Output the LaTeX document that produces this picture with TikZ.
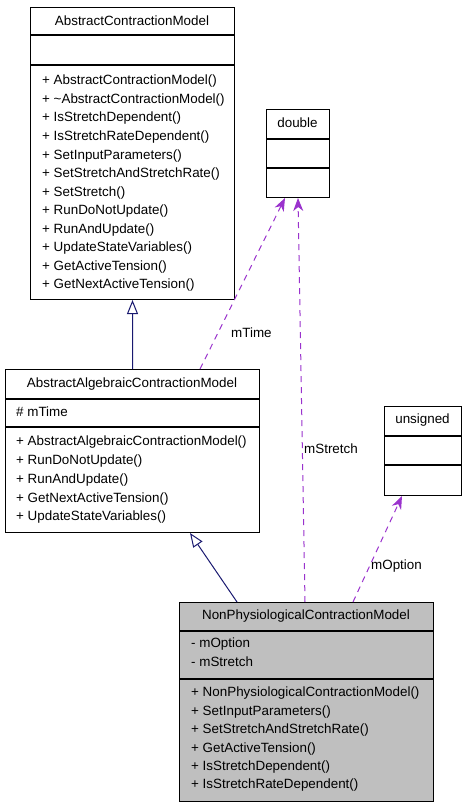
\documentclass[tikz,border=0pt]{standalone}
\usepackage{fontspec}
\setmainfont{Liberation Sans}
\usetikzlibrary{arrows.meta,calc}
\definecolor{inh}{HTML}{191970}
\definecolor{usecol}{HTML}{9A32CD}
\definecolor{boxgray}{HTML}{BFBFBF}
\begin{document}
\begin{tikzpicture}[x=1bp,y=-1bp, font=\fontsize{13.4bp}{16bp}\selectfont,
 classbox/.style={draw=black, line width=1bp, rectangle, inner sep=0pt, anchor=north west, fill=white},
 sepline/.style={draw=black, line width=1.4bp},
 txt/.style={inner sep=0pt, anchor=west, text height=9.6bp, text depth=0bp},
 ttl/.style={inner sep=0pt, anchor=center, text height=9.6bp, text depth=0bp},
 inherit/.style={draw=inh, line width=1bp, -{Triangle[open,length=14bp,width=11bp,fill=white]}},
 uses/.style={draw=usecol, line width=1bp, dash pattern=on 6bp off 5bp, -{Stealth[length=13bp,width=10bp,inset=4bp]}},
 lbl/.style={inner sep=0pt, anchor=west, text height=9.6bp, text depth=0bp}]

\useasboundingbox (0,0) rectangle (467,808);

% AbstractContractionModel
\node[classbox, minimum width=204bp, minimum height=292bp] (acm) at (30,7) {};
\draw[sepline] ($(acm.north west)+(0,28)$) -- ($(acm.north east)+(0,28)$);
\draw[sepline] ($(acm.north west)+(0,58)$) -- ($(acm.north east)+(0,58)$);
\node[ttl] (acmt) at (132,21) {AbstractContractionModel};
\foreach \t [count=\i from 0] in {AbstractContractionModel(),\textasciitilde AbstractContractionModel(),IsStretchDependent(),IsStretchRateDependent(),SetInputParameters(),SetStretchAndStretchRate(),SetStretch(),RunDoNotUpdate(),RunAndUpdate(),UpdateStateVariables(),GetActiveTension(),GetNextActiveTension()}
  \node[txt] (acmm\i) at (42,80+18.55*\i) {+ \t};

% AbstractAlgebraicContractionModel
\node[classbox, minimum width=254bp, minimum height=163bp] (aacm) at (5,369) {};
\draw[sepline] ($(aacm.north west)+(0,30)$) -- ($(aacm.north east)+(0,30)$);
\draw[sepline] ($(aacm.north west)+(0,58)$) -- ($(aacm.north east)+(0,58)$);
\node[ttl] (aacmt) at (132,383) {AbstractAlgebraicContractionModel};
\node[txt] (aacma) at (16,412) {\# mTime};
\foreach \t [count=\i from 0] in {AbstractAlgebraicContractionModel(),RunDoNotUpdate(),RunAndUpdate(),GetNextActiveTension(),UpdateStateVariables()}
  \node[txt] (aacmm\i) at (16,441+18.75*\i) {+ \t};

% NonPhysiologicalContractionModel
\node[classbox, fill=boxgray, minimum width=254bp, minimum height=199bp] (npcm) at (179,602) {};
\draw[sepline] ($(npcm.north west)+(0,29)$) -- ($(npcm.north east)+(0,29)$);
\draw[sepline] ($(npcm.north west)+(0,77)$) -- ($(npcm.north east)+(0,77)$);
\node[ttl] (npcmt) at (306,615) {NonPhysiologicalContractionModel};
\node[txt] (npcma0) at (191,643) {- mOption};
\node[txt] (npcma1) at (191,662) {- mStretch};
\foreach \t [count=\i from 0] in {NonPhysiologicalContractionModel(),SetInputParameters(),SetStretchAndStretchRate(),GetActiveTension(),IsStretchDependent(),IsStretchRateDependent()}
  \node[txt] (npcmm\i) at (191,692+18.4*\i) {+ \t};

% double
\node[classbox, minimum width=63bp, minimum height=88bp] (dbl) at (266,109) {};
\draw[sepline] ($(dbl.north west)+(0,30)$) -- ($(dbl.north east)+(0,30)$);
\draw[sepline] ($(dbl.north west)+(0,59)$) -- ($(dbl.north east)+(0,59)$);
\node[ttl] (dblt) at (297.5,123) {double};

% unsigned
\node[classbox, minimum width=77bp, minimum height=89bp] (uns) at (384,406) {};
\draw[sepline] ($(uns.north west)+(0,30)$) -- ($(uns.north east)+(0,30)$);
\draw[sepline] ($(uns.north west)+(0,59)$) -- ($(uns.north east)+(0,59)$);
\node[ttl] (unst) at (422.5,419) {unsigned};

% inheritance
\draw[inherit] (aacm.north) -- (acm.south);
\draw[inherit] ($(npcm.north west)+(58,0)$) -- ($(aacm.south west)+(185,0)$);

% usage
\draw[uses] ($(aacm.north west)+(195,0)$) -- ($(dbl.south west)+(19,0)$);
\draw[uses] ($(npcm.north west)+(126,0)$) -- ($(dbl.south west)+(32,0)$);
\draw[uses] ($(npcm.north west)+(174,0)$) -- ($(uns.south west)+(18,0)$);
\node[lbl] (lt) at (231,333) {mTime};
\node[lbl] (ls) at (304,449) {mStretch};
\node[lbl] (lo) at (371,565) {mOption};
\end{tikzpicture}
\end{document}
